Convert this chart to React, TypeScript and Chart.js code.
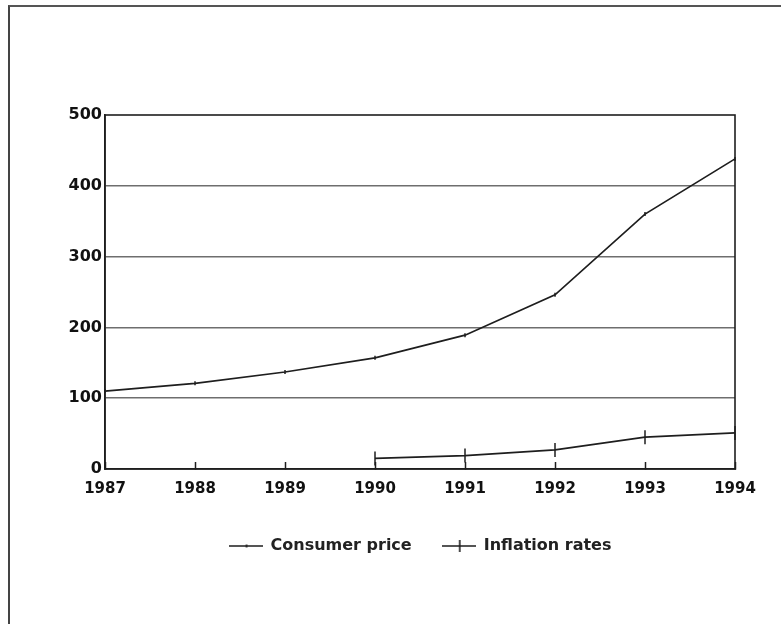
import React, { useEffect, useRef } from "react";
import { Chart, registerables } from "chart.js";

Chart.register(...registerables);

const years = ["1987", "1988", "1989", "1990", "1991", "1992", "1993", "1994"];
const consumerPrice = [110, 121, 137, 157, 189, 246, 360, 438];
const inflationRates = [null, null, null, 15, 19, 27, 45, 51];
const seriesNames = ["Consumer price", "Inflation rates"];
const yMin = 0;
const yMax = 500;
const yStep = 100;

const INK = "#1e1e1e";
const FONT = "'DejaVu Sans', sans-serif";

function makeIcon(withTick: boolean, tickHalf: number) {
  const c = document.createElement("canvas");
  c.width = 34;
  c.height = 14;
  const g = c.getContext("2d")!;
  g.strokeStyle = INK;
  g.lineWidth = 1.6;
  g.beginPath();
  g.moveTo(0, 7);
  g.lineTo(34, 7);
  if (withTick) {
    g.moveTo(18, 7 - tickHalf);
    g.lineTo(18, 7 + tickHalf);
  }
  g.stroke();
  return c;
}

const framePlugin = {
  id: "plotFrame",
  beforeDatasetsDraw(chart: any) {
    const { ctx, chartArea } = chart;
    ctx.save();
    ctx.strokeStyle = INK;
    ctx.lineWidth = 1.6;
    ctx.strokeRect(chartArea.left, chartArea.top, chartArea.right - chartArea.left, chartArea.bottom - chartArea.top);
    ctx.restore();
  },
};

export default function App() {
  const ref = useRef<HTMLCanvasElement | null>(null);

  useEffect(() => {
    if (!ref.current) return;
    const icons = [makeIcon(true, 1.5), makeIcon(true, 6)];
    const chart = new Chart(ref.current, {
      type: "line",
      data: {
        labels: years,
        datasets: [
          {
            label: seriesNames[0],
            data: consumerPrice,
            borderColor: INK,
            backgroundColor: INK,
            borderWidth: 1.7,
            tension: 0,
            pointStyle: "line",
            pointRotation: 90,
            pointRadius: 2,
            pointBorderWidth: 1.5,
            pointBorderColor: INK,
          },
          {
            label: seriesNames[1],
            data: inflationRates,
            borderColor: INK,
            backgroundColor: INK,
            borderWidth: 1.7,
            tension: 0,
            pointStyle: "line",
            pointRotation: 90,
            pointRadius: 7,
            pointBorderWidth: 1.5,
            pointBorderColor: INK,
          },
        ],
      },
      options: {
        animation: false,
        responsive: false,
        maintainAspectRatio: false,
        layout: { padding: { top: 115, right: 46, left: 0, bottom: 60 } },
        scales: {
          x: {
            offset: false,
            grid: {
              drawOnChartArea: false,
              drawTicks: true,
              tickLength: -7,
              tickColor: INK,
              tickWidth: 1.5,
            },
            border: { display: true, color: INK, width: 1.6 },
            ticks: {
              color: "#111",
              font: { family: FONT, size: 15, weight: "bold" },
              padding: 18,
              maxRotation: 0,
              autoSkip: false,
            },
            afterFit: (s: any) => {
              s.height = 39;
            },
          },
          y: {
            min: yMin,
            max: yMax,
            grid: {
              drawTicks: false,
              color: (c: any) =>
                c.tick && (c.tick.value === yMin || c.tick.value === yMax) ? "rgba(0,0,0,0)" : "#6e6e6e",
              lineWidth: 1.6,
            },
            border: { display: true, color: INK, width: 1.6 },
            ticks: {
              stepSize: yStep,
              color: "#111",
              font: { family: FONT, size: 16, weight: "bold" },
              padding: 3,
            },
            afterFit: (s: any) => {
              s.width = 105;
            },
          },
        },
        plugins: {
          title: { display: false },
          tooltip: { enabled: false },
          legend: {
            display: true,
            position: "bottom",
            fullSize: false,
            labels: {
              usePointStyle: true,
              pointStyleWidth: 34,
              padding: 30,
              color: "#222",
              font: { family: FONT, size: 16, weight: "bold" },
              generateLabels: (ch: any) => {
                const items = (Chart.defaults.plugins.legend.labels as any).generateLabels(ch);
                items.forEach((it: any, i: number) => {
                  it.pointStyle = icons[i];
                  it.rotation = 0;
                  it.fontColor = "#222";
                });
                return items;
              },
            },
          },
        },
      },
      plugins: [framePlugin],
    } as any);
    return () => chart.destroy();
  }, []);

  return (
    <div style={{ position: "absolute", left: 0, top: 0, width: 781, height: 624, background: "#fff", overflow: "hidden" }}>
      <div
        style={{
          position: "absolute",
          left: 8,
          top: 5,
          width: 800,
          height: 700,
          borderLeft: "2px solid #444",
          borderTop: "2px solid #555",
        }}
      />
      <canvas ref={ref} width={781} height={624} style={{ position: "absolute", left: 0, top: 0 }} />
    </div>
  );
}
